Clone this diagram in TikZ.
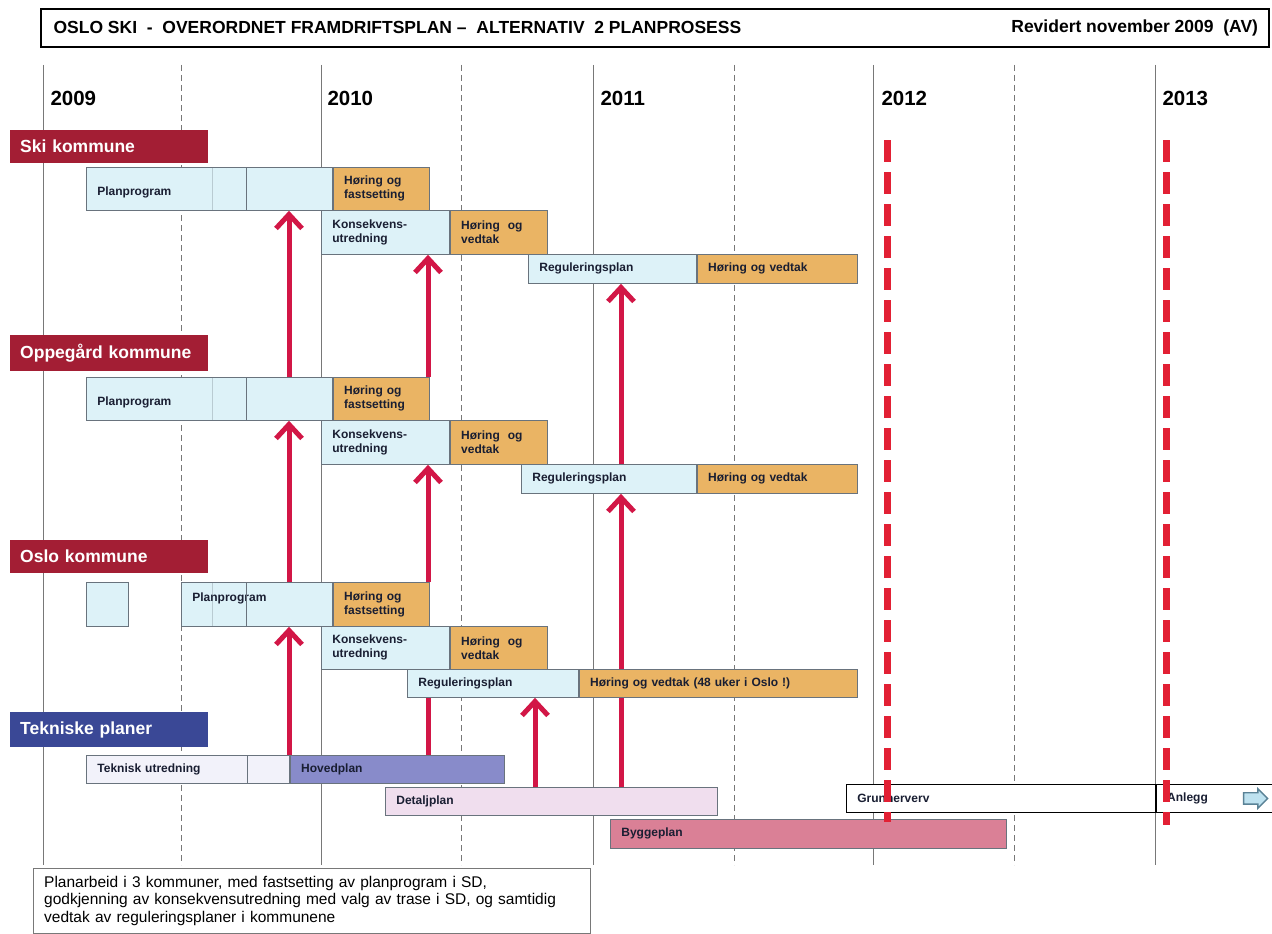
\documentclass[tikz,border=0pt]{standalone}
\usepackage{fontspec}
\setmainfont{Liberation Sans}
\usetikzlibrary{positioning, arrows.meta, shapes.arrows}

\definecolor{headred}{RGB}{163,30,52}
\definecolor{headblue}{RGB}{58,72,150}
\definecolor{planblue}{RGB}{221,242,248}
\definecolor{hoerorange}{RGB}{234,180,100}
\definecolor{tekwhite}{RGB}{242,242,250}
\definecolor{hovedblue}{RGB}{136,139,202}
\definecolor{detaljpink}{RGB}{240,222,238}
\definecolor{byggpink}{RGB}{218,128,150}
\definecolor{barline}{RGB}{105,115,125}
\definecolor{textdark}{RGB}{25,30,50}
\definecolor{arrowred}{RGB}{210,22,70}
\definecolor{deadred}{RGB}{226,32,52}
\definecolor{gridgray}{RGB}{120,120,120}
\definecolor{pilfill}{RGB}{190,226,240}
\definecolor{piledge}{RGB}{90,130,150}

\begin{document}
\begin{tikzpicture}[x=1pt, y=-1pt, node distance=0pt, >=latex,
    bar/.style={draw=barline, line width=0.8pt, rectangle, anchor=north west,
        inner xsep=11pt, inner ysep=0pt, align=left, text=textdark,
        font=\bfseries\fontsize{12}{14}\selectfont},
    group/.style={rectangle, anchor=north west, inner xsep=10pt, text width=178pt,
        align=left, text=white, font=\bfseries\fontsize{17.5}{20}\selectfont},
    year/.style={anchor=west, font=\bfseries\fontsize{20.5}{24}\selectfont},
    yearline/.style={draw=gridgray, line width=0.8pt},
    halfline/.style={draw=gridgray, line width=0.8pt, dash pattern=on 6pt off 4pt},
    divider/.style={draw=barline, line width=0.6pt},
    redline/.style={draw=arrowred, line width=5pt},
    redarrow/.style={redline, -{Straight Barb[length=14pt, width=26pt]}},
    deadline/.style={draw=deadred, line width=7pt, dash pattern=on 22pt off 10pt},
    titletext/.style={font=\bfseries\fontsize{17.5}{20}\selectfont},
    note/.style={draw=gridgray, fill=white, align=left, text width=535pt,
        inner xsep=11pt, inner ysep=8pt, font=\fontsize{15.5}{17.5}\selectfont}]
    \fill[white] (0,0) rectangle (1272,934);
    \useasboundingbox (0,0) rectangle (1272,934);
    % Grid
    \foreach \x in {43,321,593,873,1155}
        \draw[yearline] (\x,65) -- (\x,865);
    \foreach \x in {181,461,734,1014}
        \draw[halfline] (\x,65) -- (\x,865);
    % Title
    \node[draw, line width=1.6pt, anchor=north west, minimum width=1228pt, minimum height=38pt] (title) at (40,8) {};
    \node[titletext, anchor=west] (titleL) at ([xshift=10pt]title.west) {OSLO SKI\ \ -\ \ OVERORDNET FRAMDRIFTSPLAN –\ \ ALTERNATIV\ \ 2 PLANPROSESS};
    \node[titletext, anchor=east] (titleR) at ([xshift=-8pt]title.east) {Revidert november 2009\ \ (AV)};
    % Years
    \node[year] (y2009) at (47,98) {2009};
    \node[year] (y2010) at (324,98) {2010};
    \node[year] (y2011) at (597,98) {2011};
    \node[year] (y2012) at (878,98) {2012};
    \node[year] (y2013) at (1159,98) {2013};
    % Groups
    \node[group, fill=headred, minimum height=33pt] (ski) at (10,130) {Ski kommune};
    \node[group, fill=headred, minimum height=36pt] (opp) at (10,335) {Oppegård kommune};
    \node[group, fill=headred, minimum height=33pt] (oslo) at (10,540) {Oslo kommune};
    \node[group, fill=headblue, minimum height=35pt] (tek) at (10,712) {Tekniske planer};
    % Ski kommune
    \node[bar, fill=planblue, minimum height=43pt, text width=224pt, text height=16pt] (skiPP) at (86,167) {Planprogram};
    \node[bar, fill=hoerorange, minimum height=43pt, text width=74pt, right=0pt of skiPP] (skiPF) {Høring og\\fastsetting};
    \node[bar, fill=planblue, minimum height=44pt, text width=106pt] (skiKU) at (321,210) {Konsekvens-\\utredning};
    \node[bar, fill=hoerorange, minimum height=44pt, text width=75pt, right=0pt of skiKU] (skiKV) {Høring~~og\\vedtak};
    \node[bar, fill=planblue, minimum height=29pt, text width=146pt] (skiRP) at (528,254) {Reguleringsplan};
    \node[bar, fill=hoerorange, minimum height=29pt, text width=138pt, right=0pt of skiRP] (skiRV) {Høring og vedtak};
    \draw[divider, draw opacity=0.3] ([xshift=126pt]skiPP.north west) -- ([xshift=126pt]skiPP.south west);
    \draw[divider] ([xshift=160pt]skiPP.north west) -- ([xshift=160pt]skiPP.south west);
    % Oppegard kommune
    \node[bar, fill=planblue, minimum height=43pt, text width=224pt, text height=16pt] (oppPP) at (86,377) {Planprogram};
    \node[bar, fill=hoerorange, minimum height=43pt, text width=74pt, right=0pt of oppPP] (oppPF) {Høring og\\fastsetting};
    \node[bar, fill=planblue, minimum height=44pt, text width=106pt] (oppKU) at (321,420) {Konsekvens-\\utredning};
    \node[bar, fill=hoerorange, minimum height=44pt, text width=75pt, right=0pt of oppKU] (oppKV) {Høring~~og\\vedtak};
    \node[bar, fill=planblue, minimum height=29pt, text width=153pt] (oppRP) at (521,464) {Reguleringsplan};
    \node[bar, fill=hoerorange, minimum height=29pt, text width=138pt, right=0pt of oppRP] (oppRV) {Høring og vedtak};
    \draw[divider, draw opacity=0.3] ([xshift=126pt]oppPP.north west) -- ([xshift=126pt]oppPP.south west);
    \draw[divider] ([xshift=160pt]oppPP.north west) -- ([xshift=160pt]oppPP.south west);
    % Oslo kommune
    \node[bar, fill=planblue, minimum height=44pt, text width=20pt] (osloPre) at (86,582) {};
    \node[bar, fill=planblue, minimum height=44pt, text width=129pt, text depth=14pt] (osloPP) at (181,582) {Planprogram};
    \node[bar, fill=hoerorange, minimum height=44pt, text width=74pt, right=0pt of osloPP] (osloPF) {Høring og\\fastsetting};
    \node[bar, fill=planblue, minimum height=43pt, text width=106pt] (osloKU) at (321,626) {Konsekvens-\\utredning};
    \node[bar, fill=hoerorange, minimum height=43pt, text width=75pt, right=0pt of osloKU] (osloKV) {Høring~~og\\vedtak};
    \node[bar, fill=planblue, minimum height=28pt, text width=149pt] (osloRP) at (407,669) {Reguleringsplan};
    \node[bar, fill=hoerorange, minimum height=28pt, text width=256pt, right=0pt of osloRP] (osloRV) {Høring og vedtak (48 uker i Oslo !)};
    \draw[divider, draw opacity=0.3] ([xshift=31pt]osloPP.north west) -- ([xshift=31pt]osloPP.south west);
    \draw[divider] ([xshift=65pt]osloPP.north west) -- ([xshift=65pt]osloPP.south west);
    % Tekniske planer
    \node[bar, fill=tekwhite, minimum height=28pt, text width=181pt] (tekTU) at (86,755) {Teknisk utredning};
    \node[bar, fill=hovedblue, minimum height=28pt, text width=192pt, right=0pt of tekTU] (tekHP) {Hovedplan};
    \draw[divider] ([xshift=161pt]tekTU.north west) -- ([xshift=161pt]tekTU.south west);
    \node[bar, fill=detaljpink, minimum height=28pt, text width=310pt] (tekDP) at (385,787) {Detaljplan};
    \node[bar, fill=byggpink, minimum height=29pt, text width=374pt] (tekBP) at (610,819) {Byggeplan};
    \node[bar, draw=black, fill=white, minimum height=28pt, text width=287pt] (grunn) at (846,784) {Grunnerverv};
    \node[bar, draw=black, fill=white, minimum height=28pt, text width=98pt, right=0pt of grunn] (anlegg) {Anlegg};
    \node[single arrow, draw=piledge, fill=pilfill, line width=1.4pt, minimum height=24pt, inner sep=5pt,
        single arrow head extend=4pt, anchor=east] (anleggPil) at ([xshift=-8pt]anlegg.east) {};
    % Arrows
    \coordinate (pA) at (289,0);
    \coordinate (pB) at (428,0);
    \coordinate (pC) at (535,0);
    \coordinate (pD) at (621,0);
    \draw[redarrow] (tekHP.north -| pA) -- (osloPP.south -| pA);
    \draw[redarrow] (osloPP.north -| pA) -- (oppPP.south -| pA);
    \draw[redarrow] (oppPP.north -| pA) -- (skiPP.south -| pA);
    \draw[redline] (tekHP.north -| pB) -- (osloRP.south -| pB);
    \draw[redarrow] (osloPF.north -| pB) -- (oppKU.south -| pB);
    \draw[redarrow] (oppPF.north -| pB) -- (skiKU.south -| pB);
    \draw[redarrow] (tekDP.north -| pC) -- (osloRP.south -| pC);
    \draw[redline] (tekDP.north -| pD) -- (osloRV.south -| pD);
    \draw[redarrow] (osloRV.north -| pD) -- (oppRP.south -| pD);
    \draw[redarrow] (oppRP.north -| pD) -- (skiRP.south -| pD);
    % Milestones
    \coordinate (dlAtop) at (887,140);
    \coordinate (dlAbot) at (887,822);
    \coordinate (dlBtop) at (1166,140);
    \coordinate (dlBbot) at (1166,825);
    \draw[deadline] (dlAtop) -- (dlAbot);
    \draw[deadline] (dlBtop) -- (dlBbot);
    % Note
    \node[note, anchor=north west] (note) at (33,868) {Planarbeid i 3 kommuner, med fastsetting av planprogram i SD,\\godkjenning av konsekvensutredning med valg av trase i SD, og samtidig\\vedtak av reguleringsplaner i kommunene};
\end{tikzpicture}
\end{document}
